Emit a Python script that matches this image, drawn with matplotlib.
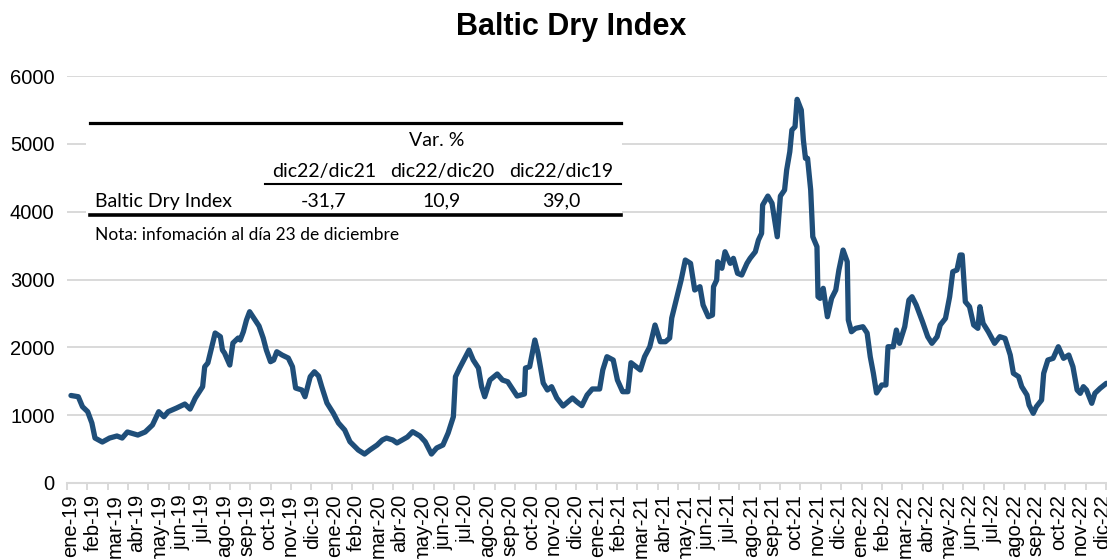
import matplotlib
matplotlib.use('Agg')
import matplotlib.pyplot as plt
import numpy as np
from matplotlib.lines import Line2D
from matplotlib.patches import Rectangle

# dia habil desde el 2-ene-2019 y valor del Baltic Dry Index
dia = [0, 7, 11, 16, 20, 23, 30, 37, 44, 49, 54, 64, 71, 78, 84, 89, 93, 101, 109, 114,
       119, 126, 128, 131, 138, 143, 145, 147, 152, 155, 160, 162, 165, 168, 171, 175, 180, 184, 187, 191,
       194, 197, 202, 208, 212, 215, 221, 224, 229, 233, 237, 240, 245, 251, 256, 262, 267, 275, 281, 286,
       293, 298, 302, 308, 312, 317, 322, 327, 334, 339, 345, 350, 356, 361, 366, 368, 372, 377, 381, 385,
       390, 393, 396, 401, 408, 413, 418, 427, 434, 435, 439, 444, 447, 452, 456, 460, 465, 471, 480, 484,
       489, 494, 499, 506, 509, 513, 519, 523, 528, 533, 536, 545, 549, 554, 559, 564, 569, 573, 575, 580,
       584, 588, 593, 597, 602, 605, 610, 614, 615, 618, 619, 623, 626, 631, 634, 638, 642, 647, 650, 655,
       658, 661, 662, 667, 671, 676, 679, 683, 685, 688, 690, 693, 695, 699, 701, 703, 705, 708, 710, 714,
       715, 717, 720, 724, 728, 732, 735, 739, 743, 744, 747, 751, 758, 762, 765, 768, 771, 776, 780, 782,
       787, 790, 793, 798, 802, 805, 809, 815, 820, 824, 829, 832, 837, 841, 844, 848, 851, 853, 856, 860,
       864, 868, 870, 873, 878, 884, 889, 894, 899, 902, 907, 910, 915, 917, 921, 924, 929, 931, 935, 940,
       945, 950, 955, 959, 963, 966, 969, 972, 977, 980, 985, 991]
bdi = [1290, 1272, 1125, 1051, 885, 663, 604, 663, 693, 663, 752, 707, 752, 855, 1051, 977, 1051, 1105, 1164, 1090,
       1253, 1420, 1714, 1769, 2211, 2157, 1960, 1916, 1739, 2063, 2137, 2108, 2230, 2403, 2525, 2432, 2314, 2137, 1960, 1788,
       1813, 1935, 1887, 1842, 1714, 1400, 1371, 1272, 1567, 1640, 1577, 1420, 1179, 1032, 885, 781, 609, 486, 427, 486,
       560, 634, 663, 634, 590, 634, 678, 756, 693, 609, 427, 516, 560, 737, 977, 1567, 1695, 1842, 1960, 1813,
       1695, 1420, 1272, 1518, 1607, 1518, 1493, 1282, 1312, 1695, 1714, 2108, 1916, 1474, 1371, 1420, 1253, 1135, 1253, 1198,
       1140, 1297, 1386, 1386, 1666, 1862, 1813, 1518, 1346, 1346, 1773, 1666, 1862, 2009, 2329, 2083, 2083, 2137, 2432, 2746,
       2992, 3287, 3238, 2845, 2894, 2624, 2451, 2476, 2894, 2992, 3262, 3165, 3409, 3238, 3312, 3091, 3066, 3238, 3312, 3409,
       3582, 3680, 4098, 4230, 4123, 3630, 4230, 4319, 4614, 4884, 5203, 5252, 5656, 5498, 5056, 4786, 4786, 4319, 3630, 3483,
       2746, 2722, 2870, 2451, 2722, 2845, 3140, 3434, 3262, 2403, 2230, 2280, 2304, 2211, 1862, 1617, 1327, 1445, 1445, 2009,
       2009, 2255, 2059, 2304, 2697, 2746, 2624, 2378, 2157, 2059, 2157, 2329, 2427, 2746, 3115, 3140, 3361, 3361, 2672, 2599,
       2329, 2280, 2599, 2354, 2230, 2059, 2157, 2132, 1887, 1617, 1567, 1420, 1297, 1150, 1027, 1125, 1223, 1617, 1813, 1838,
       2009, 1838, 1887, 1714, 1371, 1322, 1420, 1371, 1175, 1322, 1396, 1470]

meses = ['ene', 'feb', 'mar', 'abr', 'may', 'jun', 'jul', 'ago', 'sep', 'oct', 'nov', 'dic']
anios = ['19', '20', '21', '22']
etiquetas = [m + '-' + a for a in anios for m in meses]
dias_por_etiqueta = 21

titulo = 'Baltic Dry Index'
col_var = ['dic22/dic21', 'dic22/dic20', 'dic22/dic19']
var_bdi = ['-31,7', '10,9', '39,0']
fila = 'Baltic Dry Index'
nota = 'Nota: infomación al día 23 de diciembre'

plt.rcParams['font.family'] = ['Liberation Sans', 'DejaVu Sans']

W, H = 1107, 559
fig = plt.figure(figsize=(W / 100, H / 100), dpi=100)
ax = fig.add_axes([67 / W, 1 - 483 / H, (1107 - 67) / W, (483 - 76) / H])

ax.plot(dia, bdi, color='#1F4E79', lw=3.8, solid_joinstyle='round',
        solid_capstyle='round', zorder=4)

ax.set_ylim(0, 6000)
ax.set_xlim(-3.8, 991.6)
ax.set_yticks(range(0, 6001, 1000))
ax.grid(axis='y', color='#D9D9D9', lw=1.4)
ax.set_axisbelow(True)
for s in ['left', 'right', 'top']:
    ax.spines[s].set_visible(False)
ax.spines['bottom'].set_color('#D9D9D9')
ax.spines['bottom'].set_linewidth(1.5)
ax.tick_params(axis='y', length=0, labelsize=14.5, pad=9)

ax.set_xticks(np.arange(len(etiquetas)) * dias_por_etiqueta)
ax.set_xticklabels(etiquetas, rotation=90, fontsize=14.5)
ax.tick_params(axis='x', which='major', length=0, pad=8)
ax.set_xticks(np.arange(-3.8, 992, 19.5), minor=True)
ax.tick_params(axis='x', which='minor', length=5, color='#D9D9D9', width=1.4)

fig.text(571 / W, 1 - 27 / H, titulo, ha='center', va='center',
         fontsize=22, fontweight='bold')

# recuadro con la tabla de variaciones
def fx(px):
    return px / W

def fy(py):
    return 1 - py / H

fig.add_artist(Rectangle((fx(86), fy(250)), fx(622) - fx(86), fy(113) - fy(250),
                         transform=fig.transFigure, facecolor='white',
                         edgecolor='none', zorder=2))
fig.add_artist(Line2D([fx(90), fx(621)], [fy(123), fy(123)], color='black', lw=2.3, zorder=3))
fig.add_artist(Line2D([fx(265), fx(621)], [fy(184), fy(184)], color='black', lw=1.5, zorder=3))
fig.add_artist(Line2D([fx(90), fx(621)], [fy(215), fy(215)], color='black', lw=2.6, zorder=3))

tfont = dict(family=['Lato', 'DejaVu Sans'], fontsize=14, zorder=4)
fig.text(fx(437), fy(141), 'Var. %', ha='center', va='center', **tfont)
centros = [324, 442, 561]
for c, h, v in zip(centros, col_var, var_bdi):
    fig.text(fx(c), fy(171), h, ha='center', va='center', **tfont)
    fig.text(fx(c), fy(201), v, ha='center', va='center', **tfont)
fig.text(fx(95), fy(201), fila, ha='left', va='center', **tfont)
fig.text(fx(95), fy(235), nota, ha='left', va='center',
         family=['Lato', 'DejaVu Sans'], fontsize=12.5, zorder=4)

fig.savefig('out.png', dpi=100)
